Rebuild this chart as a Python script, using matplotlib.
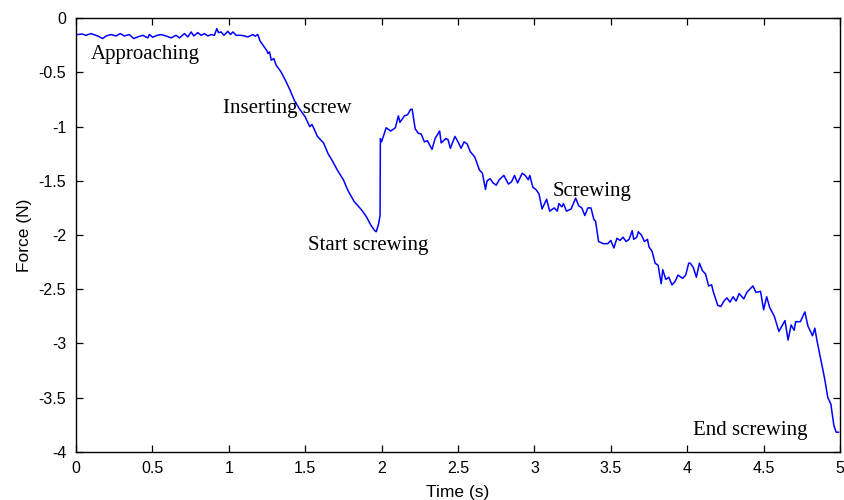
"""Force measured at the screwdriver during one screwing cycle
"""

import matplotlib
matplotlib.use('Agg')
import matplotlib.pyplot as plt
from matplotlib.ticker import FuncFormatter

plt.rcParams['axes.unicode_minus'] = False

# time (s) and force (N) samples
time_s = [0.000, 0.011, 0.040, 0.066, 0.098, 0.142, 0.175, 0.197, 0.229, 0.262,
          0.290, 0.317, 0.349, 0.378, 0.404, 0.437, 0.470, 0.480, 0.502, 0.531,
          0.557, 0.590, 0.623, 0.655, 0.677, 0.710, 0.732, 0.754, 0.771, 0.797,
          0.819, 0.841, 0.863, 0.885, 0.906, 0.922, 0.933, 0.950, 0.968, 0.994,
          1.011, 1.027, 1.049, 1.081, 1.103, 1.125, 1.158, 1.173, 1.190, 1.205,
          1.230, 1.250, 1.256, 1.267, 1.278, 1.295, 1.310, 1.340, 1.370, 1.400,
          1.430, 1.460, 1.500, 1.530, 1.545, 1.580, 1.620, 1.650, 1.680, 1.710,
          1.750, 1.780, 1.820, 1.870, 1.900, 1.930, 1.955, 1.965, 1.980, 1.990,
          1.992, 2.000, 2.030, 2.060, 2.090, 2.110, 2.120, 2.150, 2.170, 2.190,
          2.200, 2.220, 2.240, 2.260, 2.280, 2.300, 2.330, 2.350, 2.380, 2.390,
          2.420, 2.435, 2.450, 2.480, 2.500, 2.520, 2.540, 2.560, 2.580, 2.610,
          2.640, 2.660, 2.680, 2.690, 2.710, 2.730, 2.750, 2.770, 2.800, 2.830,
          2.850, 2.870, 2.890, 2.920, 2.940, 2.960, 2.970, 2.990, 3.010, 3.030,
          3.050, 3.080, 3.100, 3.130, 3.150, 3.160, 3.180, 3.190, 3.210, 3.240,
          3.270, 3.290, 3.310, 3.330, 3.350, 3.370, 3.390, 3.400, 3.420, 3.450,
          3.480, 3.500, 3.520, 3.540, 3.560, 3.580, 3.600, 3.620, 3.640, 3.650,
          3.670, 3.680, 3.700, 3.720, 3.740, 3.750, 3.770, 3.790, 3.810, 3.820,
          3.830, 3.840, 3.860, 3.880, 3.900, 3.920, 3.940, 3.970, 3.990, 4.010,
          4.020, 4.040, 4.060, 4.080, 4.100, 4.120, 4.140, 4.160, 4.170, 4.200,
          4.220, 4.240, 4.260, 4.280, 4.300, 4.320, 4.340, 4.370, 4.390, 4.430,
          4.450, 4.480, 4.500, 4.520, 4.540, 4.570, 4.600, 4.620, 4.640, 4.660,
          4.680, 4.700, 4.710, 4.740, 4.770, 4.790, 4.820, 4.835, 4.850, 4.870,
          4.900, 4.920, 4.940, 4.960, 4.975, 4.990]

force_n = [-0.150, -0.150, -0.145, -0.157, -0.141, -0.163, -0.187, -0.163, -0.150, -0.163,
           -0.141, -0.163, -0.150, -0.187, -0.172, -0.157, -0.181, -0.150, -0.175, -0.157,
           -0.150, -0.163, -0.181, -0.157, -0.181, -0.141, -0.172, -0.126, -0.163, -0.132,
           -0.157, -0.141, -0.163, -0.150, -0.157, -0.095, -0.132, -0.126, -0.157, -0.120,
           -0.150, -0.126, -0.157, -0.157, -0.163, -0.172, -0.150, -0.165, -0.150, -0.210,
           -0.260, -0.300, -0.325, -0.310, -0.387, -0.372, -0.433, -0.490, -0.570, -0.660,
           -0.760, -0.830, -0.910, -1.000, -0.980, -1.090, -1.150, -1.250, -1.320, -1.400,
           -1.490, -1.590, -1.690, -1.770, -1.830, -1.910, -1.960, -1.970, -1.900, -1.820,
           -1.110, -1.140, -1.010, -1.040, -1.010, -0.900, -0.960, -0.900, -0.890, -0.840,
           -0.840, -1.020, -1.060, -1.070, -1.140, -1.130, -1.210, -1.110, -1.040, -1.150,
           -1.110, -1.120, -1.200, -1.090, -1.140, -1.200, -1.140, -1.160, -1.230, -1.280,
           -1.400, -1.430, -1.580, -1.500, -1.480, -1.520, -1.540, -1.490, -1.450, -1.530,
           -1.510, -1.450, -1.520, -1.430, -1.450, -1.490, -1.450, -1.560, -1.580, -1.620,
           -1.760, -1.670, -1.780, -1.750, -1.780, -1.710, -1.740, -1.710, -1.780, -1.760,
           -1.660, -1.730, -1.750, -1.820, -1.750, -1.750, -1.860, -1.870, -2.060, -2.080,
           -2.080, -2.050, -2.120, -2.030, -2.050, -2.020, -2.060, -2.040, -1.960, -2.040,
           -2.020, -1.970, -2.000, -2.060, -2.040, -2.110, -2.150, -2.260, -2.280, -2.370,
           -2.450, -2.320, -2.410, -2.390, -2.460, -2.430, -2.370, -2.400, -2.370, -2.260,
           -2.260, -2.300, -2.390, -2.260, -2.330, -2.360, -2.470, -2.460, -2.520, -2.650,
           -2.660, -2.610, -2.580, -2.620, -2.570, -2.610, -2.540, -2.590, -2.530, -2.470,
           -2.530, -2.520, -2.690, -2.570, -2.670, -2.750, -2.890, -2.840, -2.790, -2.970,
           -2.830, -2.880, -2.800, -2.800, -2.710, -2.840, -2.930, -2.860, -2.980, -3.120,
           -3.330, -3.500, -3.560, -3.760, -3.820, -3.820]

# phase labels and where they sit (left edge, vertical centre)
phase_names = ['Approaching', 'Inserting screw', 'Start screwing', 'Screwing', 'End screwing']
phase_t = [0.10, 0.96, 1.52, 3.12, 4.04]
phase_f = [-0.335, -0.835, -2.095, -1.60, -3.80]

fig = plt.figure(figsize=(8.45, 5), dpi=100)
ax = fig.add_axes([0.0899, 0.0966, 0.9042, 0.8668])

ax.plot(time_s, force_n, color='#0000ff', linewidth=1.1)

for name, t, f in zip(phase_names, phase_t, phase_f):
    ax.text(t, f, name, ha='left', va='center', fontsize=15,
            family=['Liberation Serif', 'DejaVu Serif'])

ax.set_xlim(0, 5)
ax.set_ylim(-4, 0)
ax.set_xticks([0, 0.5, 1, 1.5, 2, 2.5, 3, 3.5, 4, 4.5, 5])
ax.set_yticks([-4, -3.5, -3, -2.5, -2, -1.5, -1, -0.5, 0])
fmt = FuncFormatter(lambda v, pos: '%g' % v)
ax.xaxis.set_major_formatter(fmt)
ax.yaxis.set_major_formatter(fmt)

ax.tick_params(direction='in', top=True, right=True, length=5, width=0.9,
               labelsize=11.5, pad=7)
for lab in ax.get_xticklabels() + ax.get_yticklabels():
    lab.set_family('Liberation Sans')
for sp in ax.spines.values():
    sp.set_linewidth(1.0)

ax.set_xlabel('Time (s)', fontsize=12.5, family='Liberation Sans', labelpad=6)
ax.set_ylabel('Force (N)', fontsize=12.5, family='Liberation Sans', labelpad=5)

fig.savefig('out.png', dpi=100)
